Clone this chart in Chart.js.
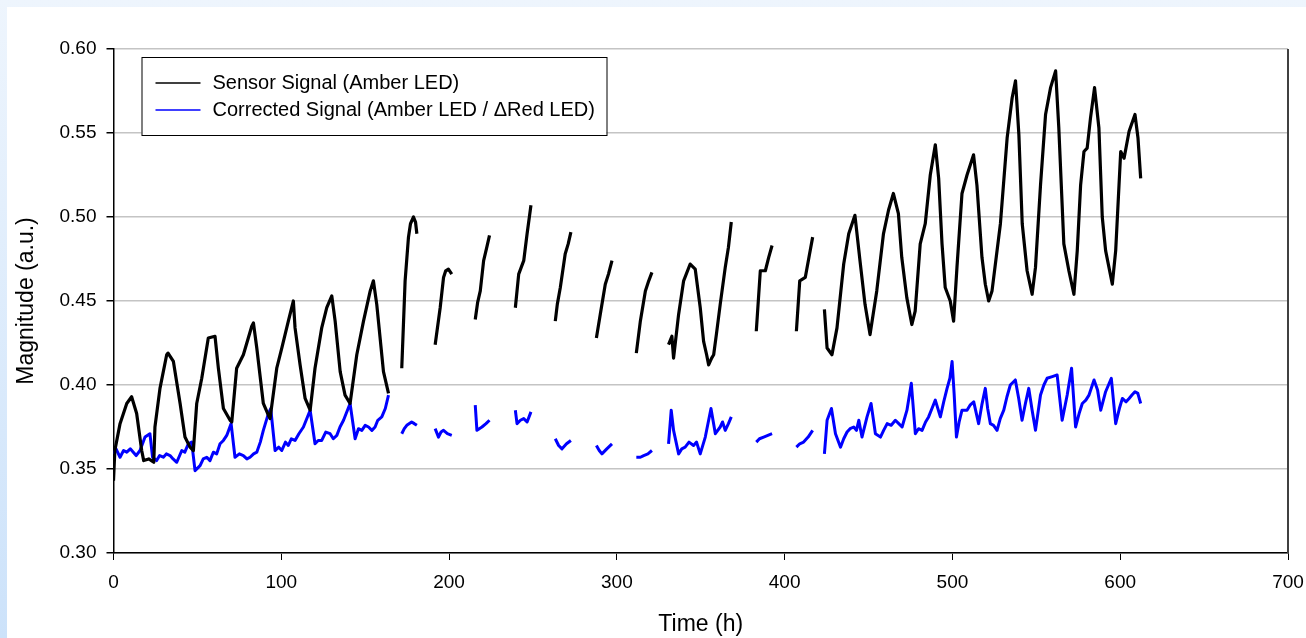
<!DOCTYPE html>
<html>
<head>
<meta charset="utf-8">
<script src="https://cdn.jsdelivr.net/npm/chart.js@4.4.1/dist/chart.umd.min.js"></script>
<style>
    html, body { margin: 0; padding: 0; }
    body {
        width: 1306px; height: 638px; overflow: hidden;
        background: linear-gradient(to bottom, #eef5fd, #cce2fa);
    }
    #wrap {
        position: absolute; left: 7px; top: 7px;
        width: 1299px; height: 631px; background: #fff;
    }
</style>
</head>
<body>
<div id="wrap"><canvas id="lineChart"></canvas></div>
<script>
// values; null marks a gap in the recording
const sensorTime = [
    0, 0.8, 3.9, 7.9, 10.8, 13.8, 16.8, 18, 21, 24, 24.7, 27.7, 31.7, 32.5, 35.7, 39.7, 42.6, 45.6, 47.6,
    49.6, 52.6, 56.5, 60.5, 62.5, 65.5, 69.5, 70.5, 73.4, 77.4, 82.4, 83.4, 85.4, 89.3, 92.3, 93.3, 97.3,
    100.3, 104.2, 107.2, 108.2, 111.2, 114.2, 117.2, 120.1, 124.1, 127.1, 130.1, 132.1, 135.1, 138, 141,
    145, 149, 153, 154.9, 156.9, 160.9, 163.9,
    168,
    171.8, 173.8, 175.8, 177, 178.8, 180, 180.8,
    186,
    191.7, 194.7, 196.7, 198, 199.6, 201.6,
    208,
    215.6, 217, 218.6, 220.6, 222.5, 224.1,
    232,
    239.5, 241.5, 243, 244.5, 246.5, 248.8,
    256,
    263.3, 264.5, 266.3, 269.2, 271, 272.6,
    280,
    287.8, 290.1, 293.1, 295, 297.1,
    304,
    311.6, 314, 317, 319, 320.9,
    326,
    330.8, 332.8, 333.8, 336.8, 339.8, 343.7, 346.7, 349.7, 351.7, 353.5, 354.7, 356.5, 357.7, 359.3,
    361.6, 364.6, 366.5, 368.2,
    376,
    383.1, 385.5, 388.5, 390.5, 392.5,
    400,
    407, 409, 412.3, 414.5, 416.7,
    420,
    423.7, 425.3, 428.2, 431.2, 435.2, 438.2, 441.9, 444.9, 447.9, 450.9, 454.9, 458.9, 461.9, 464.8,
    467.8, 469.8, 472.8, 475.8, 477.8, 480.8, 483.8, 486.8, 489.8, 491.8, 493.8, 495.7, 498.7, 500.7,
    502.7, 505.7, 508.7, 512.6, 514.6, 517.6, 519.6, 521.6, 523.6, 528.6, 532.6, 535.6, 537.6, 539.6,
    541.6, 544.5, 547.5, 549.5, 552.5, 555.5, 558.5, 561.5, 563.4, 566.4, 569.4, 572.4, 574.4, 576.4,
    578.4, 580.3, 582.3, 584.7, 587.3, 589.3, 591.3, 595.3, 597.3, 600.3, 602.3, 605.3, 608.8, 610.6, 612.2
];
const sensorValue = [
    0.343, 0.361, 0.377, 0.389, 0.393, 0.383, 0.361, 0.355, 0.356, 0.354, 0.375, 0.398, 0.418, 0.419, 0.414, 0.389, 0.369, 0.363, 0.361,
    0.389, 0.404, 0.428, 0.429, 0.410, 0.386, 0.379, 0.378, 0.410, 0.418, 0.435, 0.437, 0.422, 0.389, 0.382, 0.380, 0.410,
    0.422, 0.438, 0.450, 0.434, 0.412, 0.392, 0.385, 0.410, 0.434, 0.446, 0.453, 0.438, 0.408, 0.394, 0.389,
    0.418, 0.438, 0.456, 0.462, 0.448, 0.408, 0.395,
    null,
    0.410, 0.462, 0.488, 0.496, 0.500, 0.497, 0.490,
    null,
    0.424, 0.446, 0.464, 0.468, 0.469, 0.466,
    null,
    0.439, 0.449, 0.456, 0.474, 0.482, 0.489,
    null,
    0.446, 0.466, 0.470, 0.474, 0.490, 0.507,
    null,
    0.438, 0.448, 0.458, 0.478, 0.484, 0.491,
    null,
    0.428, 0.442, 0.460, 0.466, 0.474,
    null,
    0.419, 0.438, 0.456, 0.462, 0.467,
    null,
    0.424, 0.429, 0.416, 0.442, 0.462, 0.472, 0.469, 0.446, 0.426, 0.418, 0.412, 0.416, 0.418, 0.430,
    0.448, 0.470, 0.482, 0.497,
    null,
    0.432, 0.468, 0.468, 0.476, 0.483,
    null,
    0.432, 0.462, 0.464, 0.476, 0.488,
    null,
    0.445, 0.422, 0.418, 0.434, 0.472, 0.490, 0.501, 0.474, 0.448, 0.430, 0.456, 0.490, 0.504, 0.514,
    0.502, 0.476, 0.452, 0.436, 0.444, 0.484, 0.496, 0.525, 0.543, 0.523, 0.484, 0.458, 0.450, 0.438,
    0.470, 0.514, 0.525, 0.537, 0.519, 0.476, 0.460, 0.450, 0.456, 0.496, 0.547, 0.571, 0.581, 0.549,
    0.496, 0.468, 0.454, 0.470, 0.519, 0.561, 0.577, 0.587, 0.553, 0.484, 0.468, 0.454, 0.480, 0.519,
    0.539, 0.541, 0.559, 0.577, 0.553, 0.500, 0.480, 0.460, 0.480, 0.539, 0.535, 0.551, 0.561, 0.547, 0.523
];

const correctedTime = [
    0, 1.5, 3.9, 6, 7.9, 10, 11.8, 13.5, 15.8, 18.8, 21.7, 23.3, 25.7, 27.5, 29.7, 31.5, 33.7, 35.5, 37.7,
    40.7, 42.5, 44.6, 46.6, 48.6, 51.6, 53.5, 55.6, 57.5, 59.5, 61.5, 63.5, 65.5, 67.5, 70.1, 72.4, 75,
    77.4, 79.5, 81.4, 83.5, 85.4, 87.5, 89.3, 92.3, 93.7, 96.3, 98.5, 100.3, 102.5, 104.2, 106, 108.2,
    110.5, 113.2, 117.2, 120.1, 122, 124.1, 126.5, 129.1, 131, 133.1, 135, 137.1, 141, 144, 146, 148,
    150, 152, 154, 155.9, 157.5, 159.9, 162, 163.9,
    168,
    171.8, 173.3, 174.8, 177.7, 179.3, 180.8,
    186,
    191.7, 193.7, 195.2, 196.7, 199, 201.6,
    208,
    215.6, 216.6, 218, 219.6, 222, 224.1,
    232,
    239.5, 240.5, 242.5, 244.5, 246.5, 248.8,
    256,
    263.3, 265.3, 267.3, 270, 272.6,
    280,
    287.8, 289.5, 291.1, 294, 297.1,
    304,
    311.6, 314, 316, 318.5, 320.9,
    326,
    330.8, 332.4, 333.8, 336.8, 338.7, 340.7, 343, 345.7, 347.5, 349.7, 352.7, 356.1, 358.7, 361.6,
    363, 364.6, 366.5, 368.2,
    376,
    383.1, 385, 387.5, 390, 392.5,
    400,
    407, 409, 411.3, 414, 416.7,
    420,
    423.7, 425.3, 427.9, 430.3, 433.3, 435.2, 437.2, 439, 441.2, 442.8, 444.2, 446.1, 449.1, 451.5,
    454.1, 457.1, 459, 461.1, 463.5, 466, 468, 470, 472.9, 475.5, 477.9, 479.8, 481.9, 484, 485.8,
    487.8, 489.8, 492.8, 494.8, 496.8, 498.5, 499.8, 501, 502.4, 504, 505.7, 508.7, 510.5, 512.7,
    515.6, 517.5, 519.6, 521, 522.6, 524.5, 526.6, 528.5, 530.6, 532.5, 534.5, 537.5, 539.5, 541.5,
    543.5, 545.5, 547.5, 549.5, 552.5, 554.5, 556.4, 559.5, 562.4, 565.4, 568.4, 571, 573.4, 575.5,
    577.4, 579.5, 581.4, 584.4, 586.5, 588.4, 591.3, 594.7, 597.3, 599.5, 601.3, 603.5, 605.3, 607,
    608.8, 610.5, 612.2
];
const correctedValue = [
    0.359, 0.362, 0.357, 0.361, 0.360, 0.362, 0.360, 0.358, 0.361, 0.369, 0.371, 0.357, 0.355, 0.358, 0.357, 0.359, 0.358, 0.356, 0.354,
    0.361, 0.360, 0.365, 0.366, 0.349, 0.352, 0.356, 0.357, 0.355, 0.360, 0.359, 0.365, 0.367, 0.370, 0.377, 0.357, 0.359,
    0.358, 0.356, 0.357, 0.359, 0.360, 0.366, 0.373, 0.383, 0.386, 0.361, 0.363, 0.361, 0.366, 0.364, 0.368, 0.367,
    0.371, 0.375, 0.385, 0.365, 0.367, 0.367, 0.372, 0.371, 0.368, 0.370, 0.375, 0.379, 0.389, 0.368, 0.374, 0.373,
    0.376, 0.375, 0.373, 0.375, 0.379, 0.381, 0.386, 0.394,
    null,
    0.371, 0.374, 0.376, 0.378, 0.377, 0.376,
    null,
    0.374, 0.369, 0.372, 0.373, 0.371, 0.370,
    null,
    0.388, 0.373, 0.374, 0.375, 0.377, 0.379,
    null,
    0.385, 0.377, 0.379, 0.380, 0.378, 0.384,
    null,
    0.368, 0.364, 0.362, 0.365, 0.367,
    null,
    0.364, 0.361, 0.359, 0.362, 0.365,
    null,
    0.357, 0.357, 0.358, 0.359, 0.361,
    null,
    0.365, 0.385, 0.373, 0.359, 0.362, 0.363, 0.366, 0.364, 0.366, 0.359, 0.369, 0.386, 0.371, 0.375,
    0.378, 0.373, 0.377, 0.381,
    null,
    0.366, 0.368, 0.369, 0.370, 0.371,
    null,
    0.363, 0.365, 0.366, 0.369, 0.373,
    null,
    0.359, 0.379, 0.386, 0.371, 0.363, 0.368, 0.372, 0.374, 0.375, 0.373, 0.379, 0.369, 0.381, 0.389,
    0.371, 0.369, 0.373, 0.377, 0.376, 0.379, 0.377, 0.375, 0.385, 0.401, 0.371, 0.374, 0.373, 0.378, 0.381,
    0.386, 0.391, 0.381, 0.390, 0.398, 0.404, 0.414, 0.395, 0.369, 0.378, 0.385, 0.385, 0.388, 0.390,
    0.377, 0.388, 0.398, 0.386, 0.377, 0.376, 0.373, 0.380, 0.385, 0.393, 0.400, 0.403, 0.392, 0.379,
    0.389, 0.398, 0.385, 0.373, 0.394, 0.400, 0.404, 0.405, 0.406, 0.379, 0.394, 0.410, 0.375, 0.383,
    0.389, 0.391, 0.394, 0.403, 0.397, 0.385, 0.396, 0.404, 0.377, 0.386, 0.392, 0.390, 0.392, 0.394,
    0.396, 0.395, 0.389
];

const yTicks = [0.30, 0.35, 0.40, 0.45, 0.50, 0.55, 0.60];
const xTicks = [0, 100, 200, 300, 400, 500, 600, 700];

const FONT = "'Liberation Sans', Arial, sans-serif";
Chart.defaults.font.family = FONT;
Chart.defaults.color = '#000';

function toPoints(times, values) {
    return times.map((t, i) => ({ x: t, y: values[i] }));
}

// legend box inside the plot area plus the dark right edge of the frame
const frameAndLegend = {
    id: 'frameAndLegend',
    afterDraw(chart) {
        const ctx = chart.ctx;
        const area = chart.chartArea;
        ctx.save();
        ctx.strokeStyle = '#404040';
        ctx.lineWidth = 2;
        ctx.beginPath();
        ctx.moveTo(area.right, area.top);
        ctx.lineTo(area.right, area.bottom);
        ctx.stroke();

        const bx = area.left + 28, by = area.top + 8, bw = 465, bh = 78;
        ctx.fillStyle = '#fff';
        ctx.fillRect(bx, by, bw, bh);
        ctx.strokeStyle = '#000';
        ctx.lineWidth = 1;
        ctx.strokeRect(bx + 0.5, by + 0.5, bw, bh);

        ctx.font = '20px ' + FONT;
        ctx.textBaseline = 'middle';
        chart.data.datasets.forEach((ds, i) => {
            const ly = by + 26 + i * 27;
            ctx.strokeStyle = ds.borderColor;
            ctx.lineWidth = 1.5;
            ctx.beginPath();
            ctx.moveTo(bx + 14, ly);
            ctx.lineTo(bx + 59, ly);
            ctx.stroke();
            ctx.fillStyle = '#000';
            ctx.fillText(ds.label, bx + 71, ly);
        });
        ctx.restore();
    }
};

const ctx = document.getElementById('lineChart').getContext('2d');
new Chart(ctx, {
    type: 'line',
    data: {
        datasets: [{
            label: 'Sensor Signal (Amber LED)',
            data: toPoints(sensorTime, sensorValue),
            borderColor: '#000000',
            borderWidth: 3.2,
            borderJoinStyle: 'round',
            pointRadius: 0,
            spanGaps: false
        }, {
            label: 'Corrected Signal (Amber LED / \u0394Red LED)',
            data: toPoints(correctedTime, correctedValue),
            borderColor: '#0000ff',
            borderWidth: 3,
            borderJoinStyle: 'round',
            pointRadius: 0,
            spanGaps: false
        }]
    },
    options: {
        responsive: true,
        maintainAspectRatio: false,
        animation: false,
        layout: { padding: { top: 42, right: 18, left: 0, bottom: 0 } },
        plugins: {
            legend: { display: false },
            tooltip: { enabled: false }
        },
        scales: {
            x: {
                type: 'linear',
                min: 0,
                max: 700,
                afterBuildTicks: (s) => { s.ticks = xTicks.map(v => ({ value: v })); },
                afterFit: (s) => { s.height = 85; s.paddingLeft = 0; s.paddingRight = 0; },
                ticks: { font: { size: 19 }, padding: 11, maxRotation: 0 },
                grid: { drawOnChartArea: false, tickLength: 7, tickColor: '#000' },
                border: { color: '#000', width: 1.5 },
                title: { display: true, text: 'Time (h)', font: { size: 23 }, padding: { top: 0, bottom: 0 } }
            },
            y: {
                min: 0.30,
                max: 0.60,
                afterBuildTicks: (s) => { s.ticks = yTicks.map(v => ({ value: v })); },
                afterFit: (s) => { s.width = 106.5; s.paddingTop = 0; s.paddingBottom = 0; },
                ticks: { font: { size: 19 }, padding: 10, callback: (v) => v.toFixed(2) },
                grid: { color: '#c4c4c4', lineWidth: 1.5, tickLength: 7, tickColor: '#000' },
                border: { color: '#000', width: 1.5 },
                title: { display: true, text: 'Magnitude (a.u.)', font: { size: 23 }, padding: { top: 6, bottom: 5 } }
            }
        }
    },
    plugins: [frameAndLegend]
});
</script>
</body>
</html>
